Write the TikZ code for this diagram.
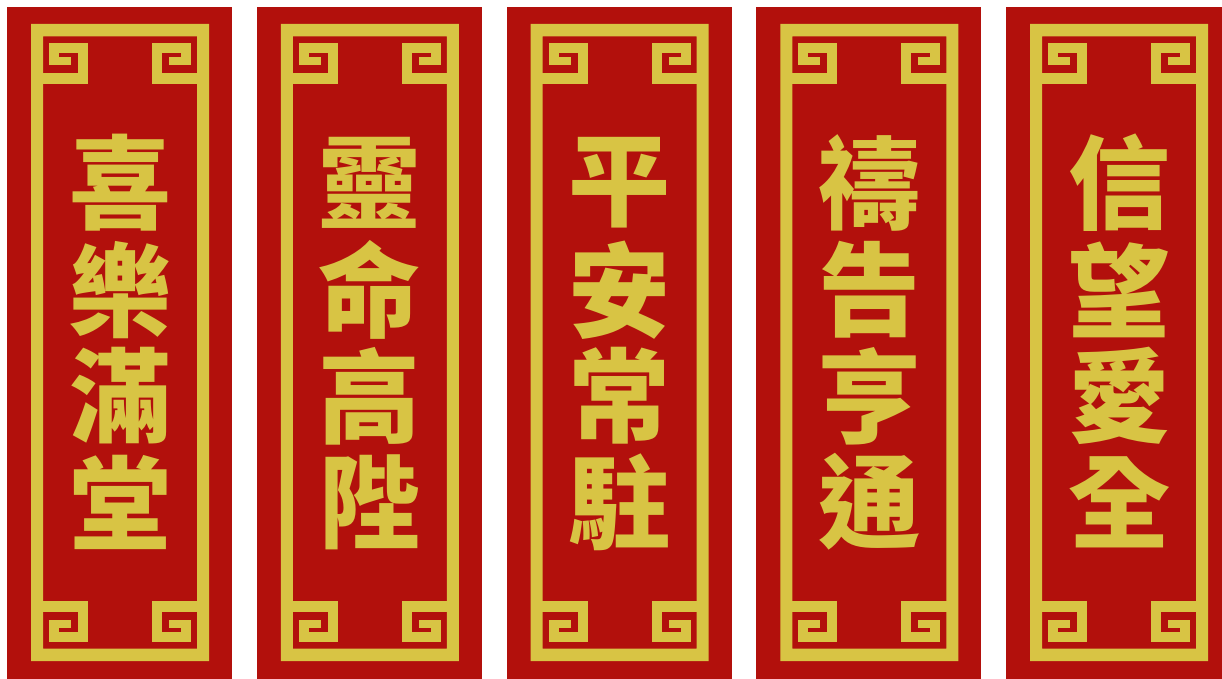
\documentclass[tikz,border=0pt]{standalone}
\usepackage{fontspec}
\newfontfamily\cjk{Noto Sans CJK TC}
\definecolor{gold}{RGB}{216,196,68}
\definecolor{panelred}{RGB}{178,16,12}
\tikzset{
  goldpart/.style={fill=gold, draw=none},
  panelbg/.style={fill=panelred, draw=none},
  hanzi/.style={text=gold, font=\cjk\bfseries\fontsize{102}{102}\selectfont, inner sep=0pt, anchor=center}
}
\newcommand\cornerorn{%
  \fill[goldpart] (30,73) rectangle (81,84);
  \fill[goldpart] (71,43) rectangle (81,84);
  \fill[goldpart] (42,43) rectangle (81,53);
  \fill[goldpart] (42,43) rectangle (52,65);
  \fill[goldpart] (52,57) rectangle (64,65);
}
\begin{document}
\begin{tikzpicture}[x=1pt,y=-1pt]
\useasboundingbox (0,0) rectangle (1222,679);
\clip (0,0) rectangle (1222,679);
\fill[white] (0,0) rectangle (1222,679);
\foreach \i/\a/\b/\c/\d in {0/喜/樂/滿/堂, 1/靈/命/高/陛, 2/平/安/常/駐, 3/禱/告/亨/通, 4/信/望/愛/全} {
  \begin{scope}[xshift={7+249.75*\i}]
    \fill[panelbg] (0,7) rectangle (225,686);
    \fill[goldpart, even odd rule] (24,24) rectangle (202,661) (36,36.5) rectangle (190,648.5);
    \cornerorn
    \begin{scope}[shift={(226,0)}, xscale=-1]\cornerorn\end{scope}
    \begin{scope}[shift={(0,685)}, yscale=-1]\cornerorn\end{scope}
    \begin{scope}[shift={(226,685)}, xscale=-1, yscale=-1]\cornerorn\end{scope}
    \node[hanzi] (ch\i-1) at (113,183) {\a};
    \node[hanzi] (ch\i-2) at (113,290) {\b};
    \node[hanzi] (ch\i-3) at (113,396) {\c};
    \node[hanzi] (ch\i-4) at (113,502) {\d};
  \end{scope}
}
\end{tikzpicture}
\end{document}
